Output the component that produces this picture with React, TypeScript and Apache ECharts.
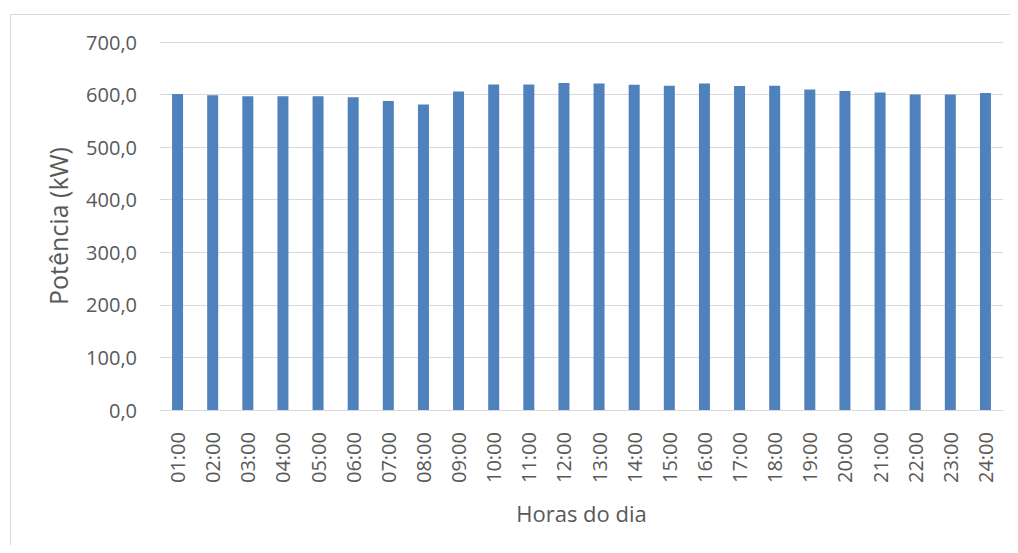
import React, { useEffect, useRef } from "react";
import * as echarts from "echarts";

const categories = [
  "01:00", "02:00", "03:00", "04:00", "05:00", "06:00", "07:00", "08:00",
  "09:00", "10:00", "11:00", "12:00", "13:00", "14:00", "15:00", "16:00",
  "17:00", "18:00", "19:00", "20:00", "21:00", "22:00", "23:00", "24:00",
];
const potencia = [
  601.3, 598.7, 596.8, 596.8, 596.8, 594.9, 588.0, 581.0,
  605.7, 619.0, 619.0, 622.0, 621.0, 618.5, 617.0, 621.0,
  616.5, 617.0, 609.5, 607.0, 604.0, 600.0, 600.0, 603.0,
];
const yMin = 0;
const yMax = 700;
const yStep = 100;
const yName = "Potência (kW)";
const xName = "Horas do dia";

const FONT = "'Open Sans', 'Noto Sans', sans-serif";
const TEXT = "#595959";

export default function App() {
  const ref = useRef<HTMLDivElement>(null);
  useEffect(() => {
    if (!ref.current) return;
    const chart = echarts.init(ref.current, null, { renderer: "svg" });
    chart.setOption({
      animation: false,
      backgroundColor: "#ffffff",
      textStyle: { fontFamily: FONT },
      graphic: [
        {
          type: "rect",
          left: 0,
          top: 4,
          shape: { width: 1020, height: 560 },
          style: { fill: "none", stroke: "#d9d9d9", lineWidth: 1 },
          silent: true,
        },
      ],
      grid: { left: 152, right: 7, top: 34, bottom: 135, containLabel: false },
      xAxis: {
        type: "category",
        data: categories,
        name: xName,
        nameLocation: "middle",
        nameGap: 92,
        nameTextStyle: { color: TEXT, fontSize: 22, fontFamily: FONT },
        axisLine: { show: true, lineStyle: { color: "#d9d9d9", width: 1 } },
        axisTick: { show: false },
        axisLabel: {
          rotate: 90,
          margin: 22,
          color: TEXT,
          fontSize: 20,
          fontFamily: FONT,
          interval: 0,
        },
      },
      yAxis: {
        type: "value",
        min: yMin,
        max: yMax,
        interval: yStep,
        name: yName,
        nameLocation: "middle",
        nameGap: 90,
        nameTextStyle: { color: TEXT, fontSize: 25, fontFamily: FONT },
        axisLine: { show: false },
        axisTick: { show: false },
        axisLabel: {
          margin: 23,
          color: TEXT,
          fontSize: 20,
          fontFamily: FONT,
          formatter: (v: number) => v.toFixed(1).replace(".", ","),
        },
        splitLine: { lineStyle: { color: "#d9d9d9", width: 1 } },
      },
      series: [
        {
          type: "bar",
          data: potencia,
          barWidth: 11,
          itemStyle: { color: "#4f81bd" },
        },
      ],
    });
    return () => chart.dispose();
  }, []);
  return <div ref={ref} style={{ width: 1002, height: 537 }} />;
}
